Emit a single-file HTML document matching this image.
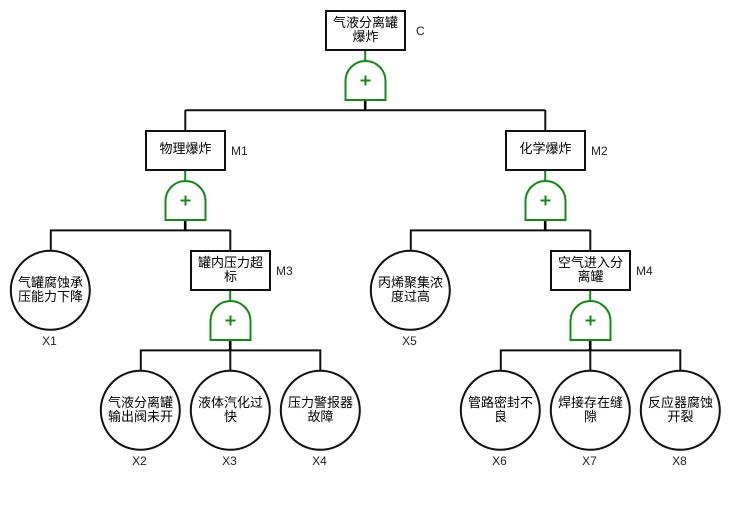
<!DOCTYPE html>
<html><head><meta charset="utf-8"><style>
html,body{margin:0;padding:0;background:#fff;width:730px;height:510px;overflow:hidden}
svg{display:block}
.c{font-family:"Liberation Sans","WenQuanYi Zen Hei","Noto Sans CJK SC",sans-serif;font-size:13px;fill:#000;text-anchor:middle}
.l{font-family:"Liberation Sans",sans-serif;font-size:12px;fill:#222}
.m{text-anchor:middle}
.k{stroke:#111;stroke-width:2;fill:none}
.b{stroke:#111;stroke-width:2;fill:#fff}
.g{stroke:#148a14;stroke-width:2;fill:#fff}
</style></head><body>
<svg width="730" height="510" viewBox="0 0 730 510" xmlns="http://www.w3.org/2000/svg">
<defs>
<g id="gate">
<path d="M-0.300 -10V1" stroke="#148a14" stroke-width="2" fill="none"/>
<path d="M-0.300 39V50" stroke="#000" stroke-width="2.600" fill="none"/>
<path class="g" d="M-20 39.500V20.500A20 20 0 0 1 20 20.500V39.500Z"/>
<path d="M-5 20H5M0 15V25" stroke="#148a14" stroke-width="2" fill="none"/>
</g>
</defs>
<!-- connectors -->
<path class="k" d="M185.300 110.300H545.300M185.300 110V130M545.300 110V130"/>
<path class="k" d="M50.800 230.400H230.300M50.800 229.400V250M230.300 230V250"/>
<path class="k" d="M410.800 230.400H590.300M410.800 229.400V250M590.300 230V250"/>
<path class="k" d="M140.800 350.400H320.300M140.800 349.400V370M230.300 350V370M320.300 349.400V370"/>
<path class="k" d="M500.800 350.400H680.300M500.800 349.400V370M590.300 350V370M680.300 349.400V370"/>
<!-- gates -->
<use href="#gate" x="365.500" y="60.500"/>
<use href="#gate" x="185.500" y="180.500"/>
<use href="#gate" x="545.500" y="180.500"/>
<use href="#gate" x="230.500" y="300.500"/>
<use href="#gate" x="590.500" y="300.500"/>
<!-- boxes -->
<rect class="b" x="326" y="11" width="79" height="39"/>
<rect class="b" x="146" y="131" width="79" height="39"/>
<rect class="b" x="506" y="131" width="79" height="39"/>
<rect class="b" x="191" y="251" width="79" height="39"/>
<rect class="b" x="551" y="251" width="79" height="39"/>
<!-- circles -->
<circle class="b" cx="50.300" cy="290.300" r="39.500"/>
<circle class="b" cx="410.300" cy="290.300" r="39.500"/>
<circle class="b" cx="140.300" cy="410.300" r="39.500"/>
<circle class="b" cx="230.300" cy="410.300" r="39.500"/>
<circle class="b" cx="320.300" cy="410.300" r="39.500"/>
<circle class="b" cx="500.300" cy="410.300" r="39.500"/>
<circle class="b" cx="590.300" cy="410.300" r="39.500"/>
<circle class="b" cx="680.300" cy="410.300" r="39.500"/>
<!-- node text -->
<text class="c" x="365.500" y="27">气液分离罐</text><text class="c" x="365.500" y="41">爆炸</text>
<text class="c" x="185.500" y="153">物理爆炸</text>
<text class="c" x="545.500" y="153">化学爆炸</text>
<text class="c" x="230.500" y="267">罐内压力超</text><text class="c" x="230.500" y="281">标</text>
<text class="c" x="590.500" y="267">空气进入分</text><text class="c" x="590.500" y="281">离罐</text>
<text class="c" x="50.500" y="287">气罐腐蚀承</text><text class="c" x="50.500" y="301">压能力下降</text>
<text class="c" x="410.500" y="287">丙烯聚集浓</text><text class="c" x="410.500" y="301">度过高</text>
<text class="c" x="140.500" y="407">气液分离罐</text><text class="c" x="140.500" y="421">输出阀未开</text>
<text class="c" x="230.500" y="407">液体汽化过</text><text class="c" x="230.500" y="421">快</text>
<text class="c" x="320.500" y="407">压力警报器</text><text class="c" x="320.500" y="421">故障</text>
<text class="c" x="500.500" y="407">管路密封不</text><text class="c" x="500.500" y="421">良</text>
<text class="c" x="590.500" y="407">焊接存在缝</text><text class="c" x="590.500" y="421">隙</text>
<text class="c" x="680.500" y="407">反应器腐蚀</text><text class="c" x="680.500" y="421">开裂</text>
<!-- labels -->
<text class="l" x="416" y="35">C</text>
<text class="l" x="231" y="155">M1</text>
<text class="l" x="591" y="155">M2</text>
<text class="l" x="276" y="275">M3</text>
<text class="l" x="636" y="275">M4</text>
<text class="l m" x="49.500" y="345">X1</text>
<text class="l m" x="409.500" y="345">X5</text>
<text class="l m" x="139.500" y="465">X2</text>
<text class="l m" x="229.500" y="465">X3</text>
<text class="l m" x="319.500" y="465">X4</text>
<text class="l m" x="499.500" y="465">X6</text>
<text class="l m" x="589.500" y="465">X7</text>
<text class="l m" x="679.500" y="465">X8</text>
</svg>
</body></html>
